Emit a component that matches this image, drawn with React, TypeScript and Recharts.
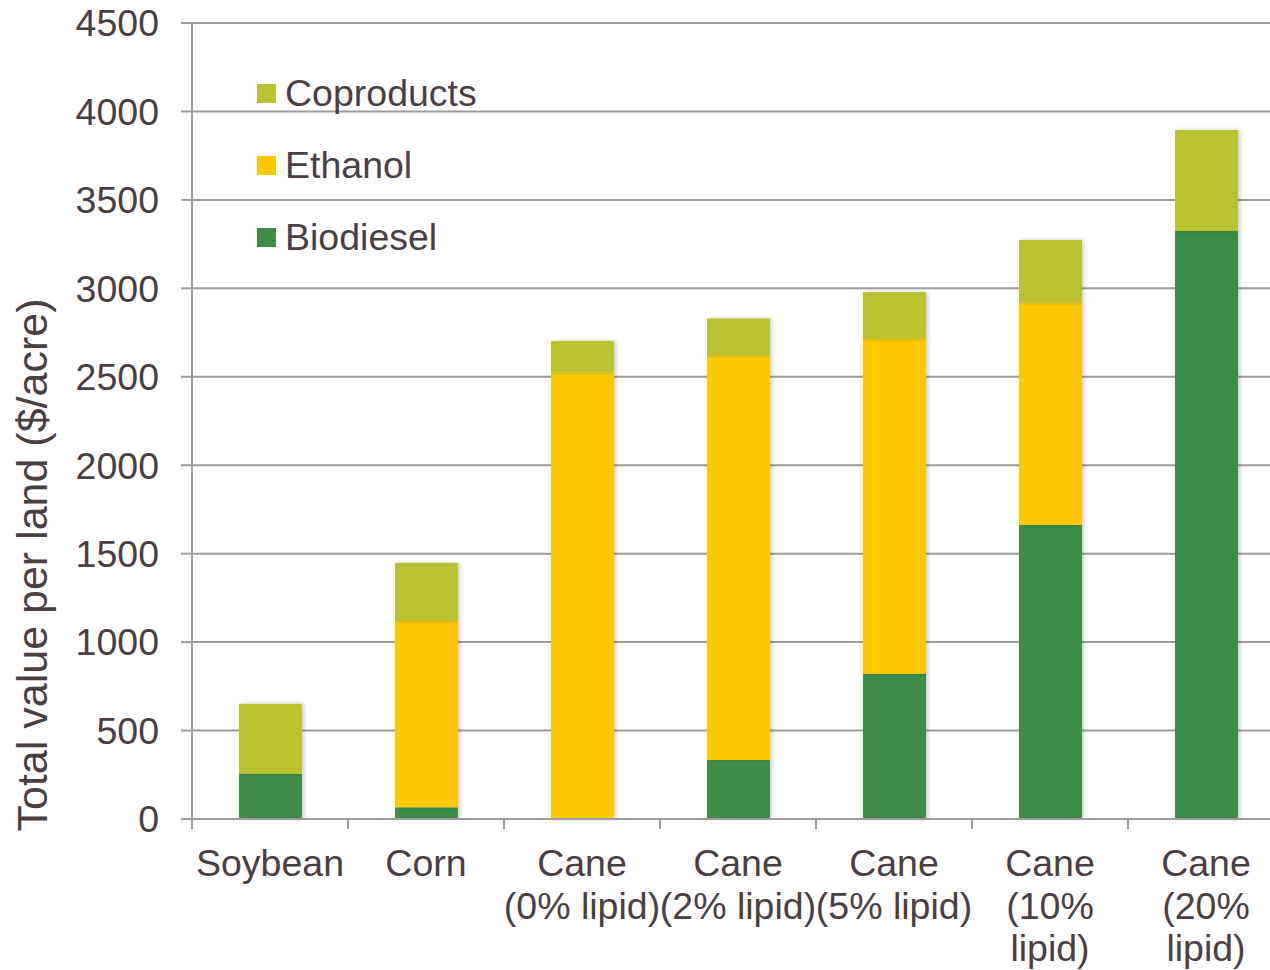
import React from 'react';
import { BarChart, Bar, XAxis, YAxis, CartesianGrid, Legend } from 'recharts';

const categories = [
  'Soybean',
  'Corn',
  'Cane (0% lipid)',
  'Cane (2% lipid)',
  'Cane (5% lipid)',
  'Cane (10% lipid)',
  'Cane (20% lipid)',
];

// wrapped tick text, one entry per category
const categoryLines = [
  ['Soybean'],
  ['Corn'],
  ['Cane', '(0% lipid)'],
  ['Cane', '(2% lipid)'],
  ['Cane', '(5% lipid)'],
  ['Cane', '(10%', 'lipid)'],
  ['Cane', '(20%', 'lipid)'],
];

const biodiesel = [254, 66, 0, 333, 820, 1662, 3324];
const ethanol = [0, 1053, 2523, 2284, 1894, 1257, 0];
const coproducts = [398, 328, 179, 213, 265, 354, 571];

const yTicks = [0, 500, 1000, 1500, 2000, 2500, 3000, 3500, 4000, 4500];

const series = [
  { key: 'biodiesel', name: 'Biodiesel', color: '#3E8D47' },
  { key: 'ethanol', name: 'Ethanol', color: '#FDC806' },
  { key: 'coproducts', name: 'Coproducts', color: '#BBC232' },
];

const data = categories.map((name, i) => ({
  name,
  biodiesel: biodiesel[i],
  ethanol: ethanol[i],
  coproducts: coproducts[i],
}));

const FONT = '"Liberation Sans", Arial, sans-serif';
const TEXT = '#4A3E41';
const RULE = '#A09A9C';
const FS = 37.5;

const CategoryTick = (props: any) => {
  const { x, y, payload, index } = props;
  const i = payload?.index ?? index;
  const lines = categoryLines[i] || [String(payload.value)];
  const half = payload?.offset ?? 0;
  return (
    <g>
      {/* tick marks sit on the category boundaries */}
      <line x1={x - half} x2={x - half} y1={y} y2={y + 10} stroke={RULE} strokeWidth={2} />
      <text x={x} y={y} textAnchor="middle" fill={TEXT} fontSize={FS} fontFamily={FONT}>
        {lines.map((line, k) => (
          <tspan key={k} x={x} dy={k === 0 ? 57 : 42.5}>
            {line}
          </tspan>
        ))}
      </text>
    </g>
  );
};

const LegendBox = () => (
  <div style={{ fontFamily: FONT, fontSize: FS, color: TEXT }}>
    {[...series].reverse().map((s) => (
      <div key={s.key} style={{ display: 'flex', alignItems: 'center', height: 72 }}>
        <span style={{ width: 19, height: 19, background: s.color, marginRight: 9, display: 'inline-block' }} />
        <span>{s.name}</span>
      </div>
    ))}
  </div>
);

export default function App() {
  return (
    <div style={{ position: 'absolute', left: 0, top: 0, width: 1270, height: 970, overflow: 'hidden', background: '#fff' }}>
      {/* the plot runs a little past the right edge, as the last band is cut off */}
      <BarChart
        width={1284}
        height={970}
        data={data}
        margin={{ top: 23, right: 0, bottom: 0, left: 0 }}
        barSize={63}
      >
        <defs>
          <filter id="barShadow" x="-20%" y="-5%" width="140%" height="110%">
            <feDropShadow dx={2} dy={0} stdDeviation={2} floodColor="#000" floodOpacity={0.2} />
          </filter>
        </defs>
        <CartesianGrid vertical={false} stroke={RULE} strokeWidth={2} />
        <XAxis
          dataKey="name"
          height={151}
          interval={0}
          tickLine={false}
          tickSize={0}
          tickMargin={0}
          axisLine={{ stroke: RULE, strokeWidth: 2 }}
          tick={<CategoryTick />}
        />
        <YAxis
          width={192}
          domain={[0, 4500]}
          ticks={yTicks}
          interval={0}
          tickSize={11}
          tickMargin={22}
          axisLine={{ stroke: RULE, strokeWidth: 2 }}
          tickLine={{ stroke: RULE, strokeWidth: 2 }}
          tick={{ fill: TEXT, fontSize: FS, fontFamily: FONT }}
        />
        <text
          transform="translate(47, 565) rotate(-90)"
          textAnchor="middle"
          fill={TEXT}
          fontSize={43}
          fontFamily={FONT}
        >
          Total value per land ($/acre)
        </text>
        <Legend
          layout="vertical"
          align="center"
          verticalAlign="middle"
          wrapperStyle={{ left: 257, top: 57, width: 'auto', height: 'auto' }}
          content={<LegendBox />}
        />
        {series.map((s) => (
          <Bar
            key={s.key}
            dataKey={s.key}
            name={s.name}
            stackId="value"
            fill={s.color}
            filter="url(#barShadow)"
            isAnimationActive={false}
          />
        ))}
      </BarChart>
    </div>
  );
}
